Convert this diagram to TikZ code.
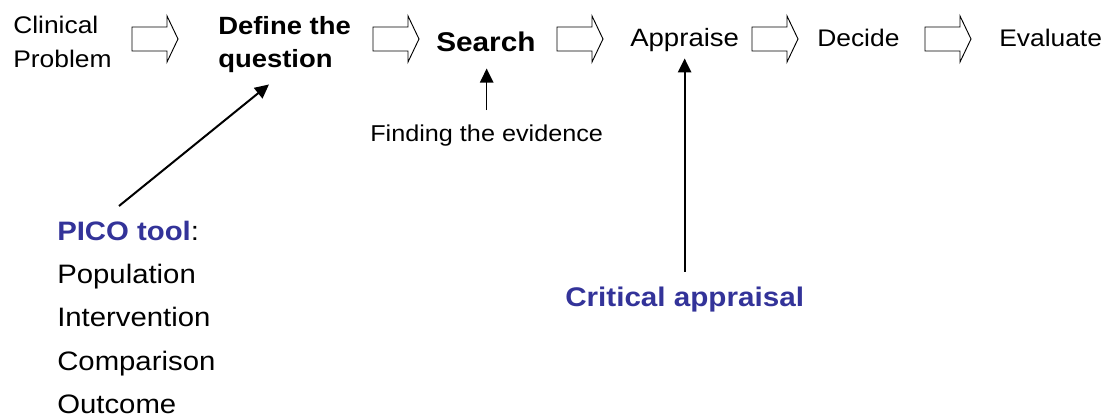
\documentclass[tikz,border=0pt]{standalone}
\usepackage{fontspec}
\usetikzlibrary{arrows.meta,calc}
\newfontfamily\lib[FakeStretch=1.1]{Liberation Sans}
\definecolor{picoblue}{RGB}{51,51,153}
\tikzset{
  toptext/.style={font=\lib\fontsize{18pt}{22pt}\selectfont, inner sep=0pt, anchor=base west},
  topbold/.style={toptext, font=\lib\fontsize{18.7pt}{22pt}\selectfont\bfseries},
  bigbold/.style={toptext, font=\lib\fontsize{20.3pt}{24pt}\selectfont\bfseries},
  smalltext/.style={font=\lib\fontsize{17.2pt}{21pt}\selectfont, inner sep=0pt, anchor=base west},
  bottext/.style={font=\lib\fontsize{20pt}{24pt}\selectfont, inner sep=0pt, anchor=base west},
  bluebold/.style={bottext, font=\lib\fontsize{20.2pt}{24pt}\selectfont\bfseries, text=picoblue},
  arr/.style={line width=1.5pt, -{Triangle[length=10.5pt,width=10pt]}},
  thinarr/.style={line width=1.1pt, -{Triangle[length=10.5pt,width=10pt]}},
  blockarrow/.pic={\draw[line width=0.7pt, line join=miter]
     (0,-12) -- (35,-12) -- (35,-23) -- (46,0) -- (35,23) -- (35,12) -- (0,12) -- cycle;}
}
\begin{document}
\begin{tikzpicture}[x=0.75pt, y=-0.75pt]
\useasboundingbox (0,0) rectangle (1108,417);
% top row
\node[toptext] (clinical) at (13,34) {Clinical};
\node[toptext] (problem) at (13,68) {Problem};
\node[topbold] (define) at (218,35) {Define the};
\node[topbold] (question) at (218,68) {question};
\node[bigbold] (search) at (436,52) {Search};
\node[toptext, font=\lib\fontsize{18.8pt}{22pt}\selectfont] (appraise) at (630,47) {Appraise};
\node[toptext] (decide) at (817,47) {Decide};
\node[toptext] (evaluate) at (999,47) {Evaluate};
% block arrows
\pic at (132,39) {blockarrow};
\pic at (373,39) {blockarrow};
\pic at (557,39) {blockarrow};
\pic at (752,39) {blockarrow};
\pic at (925,39) {blockarrow};
% annotations
\node[smalltext] (finding) at (370,142) {Finding the evidence};
\node[bottext] (pico) at (57,241) {{\bfseries\color{picoblue}PICO tool}:};
\node[bottext] (population) at (57,284) {Population};
\node[bottext] (intervention) at (57,327) {Intervention};
\node[bottext] (comparison) at (57,370) {Comparison};
\node[bottext] (outcome) at (57,413) {Outcome};
\node[bluebold] (critical) at (565,307) {Critical appraisal};
% connectors
\coordinate (picotail) at (119,206);
\draw[arr] (picotail) -- ($(question.south west)+(51,11)$);
\draw[thinarr, shorten <=11.25pt, shorten >=12pt] (finding.north) -- (finding.north |- search.south);
\draw[arr, shorten <=11.6pt, shorten >=4.5pt] (critical.north) -- (critical.north |- appraise.south);
\end{tikzpicture}
\end{document}
